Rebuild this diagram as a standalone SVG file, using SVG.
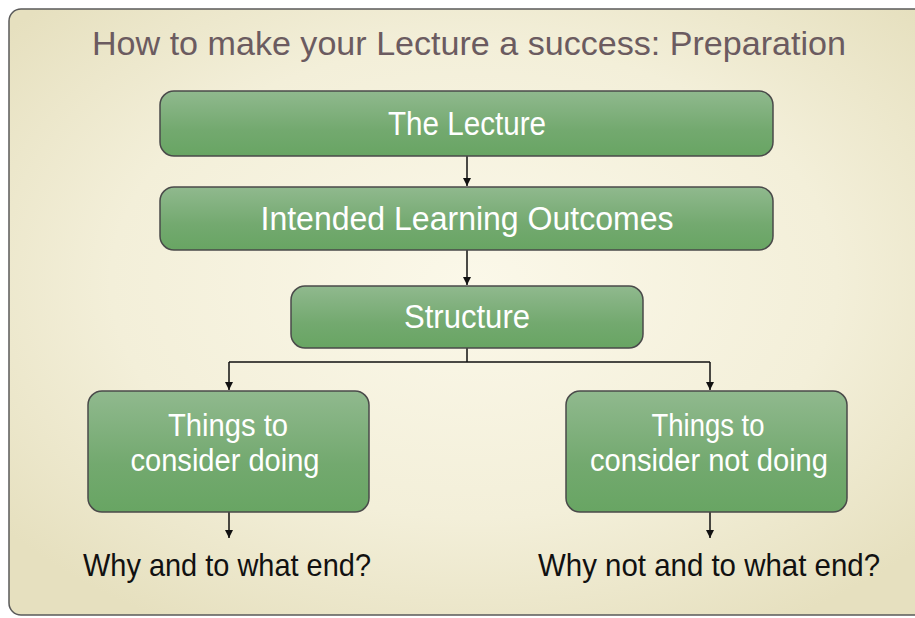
<svg xmlns="http://www.w3.org/2000/svg" width="915" height="618" viewBox="0 0 915 618">
<defs>
<radialGradient id="bg" cx="0.5" cy="0.45" r="0.65">
<stop offset="0" stop-color="#fbf8e9"/>
<stop offset="0.6" stop-color="#f3efd9"/>
<stop offset="1" stop-color="#e6e0bf"/>
</radialGradient>
<linearGradient id="box" x1="0" y1="0" x2="0" y2="1">
<stop offset="0" stop-color="#90b98e"/>
<stop offset="0.6" stop-color="#73a96f"/>
<stop offset="1" stop-color="#68a563"/>
</linearGradient>
<marker id="arr" viewBox="0 0 10 10" refX="10" refY="5" markerWidth="8" markerHeight="8" markerUnits="userSpaceOnUse" orient="auto">
<path d="M0,0 L10,5 L0,10 z" fill="#111"/>
</marker>
</defs>
<style>
.node rect{fill:url(#box);stroke:#4a4a4a;stroke-width:1.5}
.lbl{font-family:"Liberation Sans",Arial,sans-serif;fill:#fff;text-anchor:middle;font-size:33px}
.lbl2{font-family:"Liberation Sans",Arial,sans-serif;fill:#fff;text-anchor:middle;font-size:31px}
.edge{stroke:#111;stroke-width:1.5;fill:none;marker-end:url(#arr)}
.q{font-family:"Liberation Sans",Arial,sans-serif;fill:#111;text-anchor:middle;font-size:32px}
</style>
<rect x="0" y="0" width="915" height="618" fill="#ffffff"/>
<rect id="frame" x="9" y="9" width="930" height="606" rx="12" fill="url(#bg)" stroke="#5a5a5a" stroke-width="1.5"/>
<text x="469" y="55" font-family="'Liberation Sans',Arial,sans-serif" font-size="33" fill="#6b5b60" text-anchor="middle" textLength="754" lengthAdjust="spacingAndGlyphs">How to make your Lecture a success: Preparation</text>
<g id="connectors">
<path class="edge" d="M467,156 V186"/>
<path class="edge" d="M467,250 V285"/>
<path d="M467,348 V362 M229,362 H710" stroke="#111" stroke-width="1.5" fill="none"/>
<path class="edge" d="M229,362 V390"/>
<path class="edge" d="M710,362 V390"/>
<path class="edge" d="M229,512 V538"/>
<path class="edge" d="M710,512 V538"/>
</g>
<g id="n-lecture" class="node">
<rect x="160" y="91" width="613" height="65" rx="14"/>
<text class="lbl" x="467" y="135" textLength="158" lengthAdjust="spacingAndGlyphs">The Lecture</text>
</g>
<g id="n-ilo" class="node">
<rect x="160" y="187" width="613" height="63" rx="14"/>
<text class="lbl" x="467" y="230" textLength="413" lengthAdjust="spacingAndGlyphs">Intended Learning Outcomes</text>
</g>
<g id="n-structure" class="node">
<rect x="291" y="286" width="352" height="62" rx="14"/>
<text class="lbl" x="467" y="328" textLength="126" lengthAdjust="spacingAndGlyphs">Structure</text>
</g>
<g id="n-doing" class="node">
<rect x="88" y="391" width="281" height="121" rx="14"/>
<text class="lbl2" x="228" y="436" textLength="120" lengthAdjust="spacingAndGlyphs">Things to</text>
<text class="lbl2" x="225" y="471" textLength="189" lengthAdjust="spacingAndGlyphs">consider doing</text>
</g>
<g id="n-notdoing" class="node">
<rect x="566" y="391" width="281" height="121" rx="14"/>
<text class="lbl2" x="708" y="436" textLength="113" lengthAdjust="spacingAndGlyphs">Things to</text>
<text class="lbl2" x="709" y="471" textLength="238" lengthAdjust="spacingAndGlyphs">consider not doing</text>
</g>
<g id="n-why">
<text class="q" x="227" y="576" textLength="288" lengthAdjust="spacingAndGlyphs">Why and to what end?</text>
</g>
<g id="n-whynot">
<text class="q" x="709" y="576" textLength="342" lengthAdjust="spacingAndGlyphs">Why not and to what end?</text>
</g>
</svg>
